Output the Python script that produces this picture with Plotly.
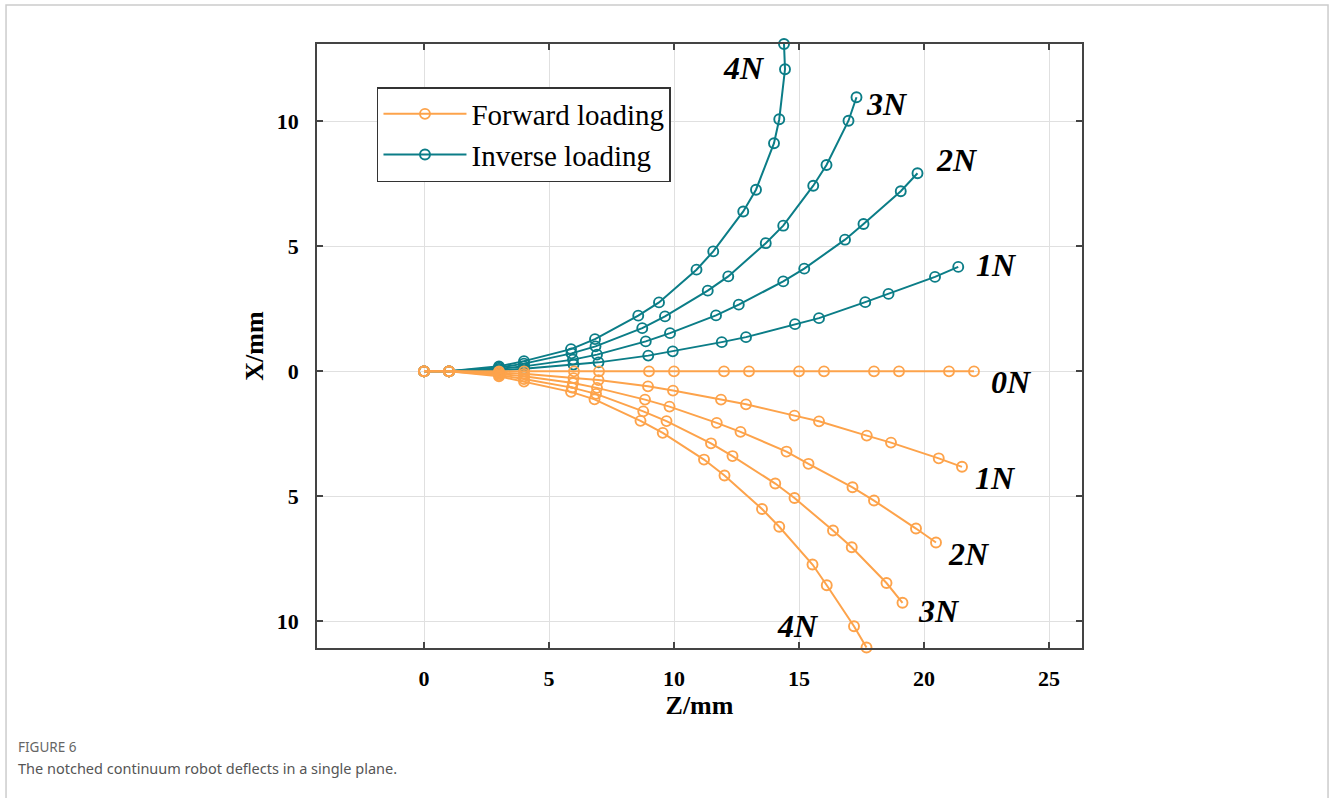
import plotly.graph_objects as go

# ---------------- data (Z/mm, X/mm) ----------------
z_0N = [0, 1, 3, 4, 6, 7, 9, 10, 12, 13, 15, 16, 18, 19, 21, 22]
x_0N = [0] * 16

z_f1 = [0, 1, 3, 4, 5.98, 6.98, 8.96, 9.96, 11.88, 12.88, 14.82, 15.80, 17.71, 18.68, 20.59, 21.52]
x_f1 = [0, 0, -0.05, -0.10, -0.27, -0.35, -0.60, -0.77, -1.13, -1.32, -1.77, -2.00, -2.57, -2.85, -3.48, -3.82]

z_f2 = [0, 1, 3, 4, 5.96, 6.92, 8.84, 9.82, 11.71, 12.66, 14.50, 15.38, 17.14, 18.00, 19.68, 20.48]
x_f2 = [0, 0, -0.10, -0.20, -0.47, -0.66, -1.13, -1.41, -2.06, -2.42, -3.21, -3.70, -4.64, -5.17, -6.29, -6.85]

z_f3 = [0, 1, 3, 4, 5.92, 6.88, 8.77, 9.70, 11.48, 12.34, 14.05, 14.82, 16.36, 17.11, 18.50, 19.14]
x_f3 = [0, 0, -0.15, -0.31, -0.65, -0.90, -1.60, -1.99, -2.88, -3.39, -4.49, -5.07, -6.37, -7.04, -8.47, -9.26]

z_f4 = [0, 1, 3, 4, 5.88, 6.82, 8.66, 9.55, 11.20, 12.02, 13.52, 14.21, 15.54, 16.11, 17.20, 17.70]
x_f4 = [0, 0, -0.20, -0.41, -0.82, -1.12, -1.98, -2.46, -3.53, -4.17, -5.51, -6.22, -7.73, -8.56, -10.20, -11.05]

z_i1 = [0, 1, 3, 4, 5.98, 6.98, 8.97, 9.95, 11.91, 12.88, 14.84, 15.80, 17.65, 18.58, 20.44, 21.37]
x_i1 = [0, 0, 0.05, 0.10, 0.27, 0.36, 0.63, 0.80, 1.17, 1.37, 1.89, 2.13, 2.77, 3.10, 3.78, 4.18]

z_i2 = [0, 1, 3, 4, 5.96, 6.92, 8.87, 9.84, 11.68, 12.59, 14.37, 15.21, 16.84, 17.58, 19.07, 19.74]
x_i2 = [0, 0, 0.10, 0.20, 0.47, 0.67, 1.20, 1.53, 2.24, 2.67, 3.60, 4.11, 5.27, 5.90, 7.21, 7.93]

z_i3 = [0, 1, 3, 4, 5.90, 6.86, 8.73, 9.64, 11.35, 12.17, 13.67, 14.37, 15.57, 16.10, 16.98, 17.30]
x_i3 = [0, 0, 0.15, 0.31, 0.72, 1.00, 1.73, 2.20, 3.23, 3.80, 5.13, 5.83, 7.43, 8.26, 10.03, 10.97]

z_i4 = [0, 1, 3, 4, 5.88, 6.84, 8.57, 9.40, 10.90, 11.57, 12.77, 13.28, 14.00, 14.21, 14.44, 14.40]
x_i4 = [0, 0, 0.20, 0.41, 0.89, 1.29, 2.23, 2.76, 4.07, 4.80, 6.40, 7.27, 9.13, 10.09, 12.09, 13.10]

forward = [(z_0N, x_0N), (z_f1, x_f1), (z_f2, x_f2), (z_f3, x_f3), (z_f4, x_f4)]
inverse = [(z_i1, x_i1), (z_i2, x_i2), (z_i3, x_i3), (z_i4, x_i4)]

# label texts and positions
inv_labels = ["1N", "2N", "3N", "4N"]
inv_label_z = [22.9, 21.3, 18.5, 12.8]
inv_label_x = [4.25, 8.47, 10.7, 12.14]
fwd_labels = ["0N", "1N", "2N", "3N", "4N"]
fwd_label_z = [23.5, 22.85, 21.78, 20.6, 14.95]
fwd_label_x = [-0.44, -4.25, -7.3, -9.6, -10.2]

x_ticks = [0, 5, 10, 15, 20, 25]
y_ticks = [-10, -5, 0, 5, 10]
y_ticktext = ["10", "5", "0", "5", "10"]

ORANGE = "#FDA34B"
TEAL = "#0B7D87"
SERIF = "Liberation Serif"

fig = go.Figure()

for i, (zz, xx) in enumerate(inverse):
    fig.add_trace(go.Scatter(
        x=zz, y=xx, mode="lines+markers",
        line=dict(color=TEAL, width=2),
        marker=dict(symbol="circle-open", size=10, color=TEAL, line=dict(width=1.9, color=TEAL)),
        name="Inverse loading", legendgroup="inv", showlegend=(i == 0), legendrank=2,
        cliponaxis=False,
    ))

for i, (zz, xx) in enumerate(forward):
    fig.add_trace(go.Scatter(
        x=zz, y=xx, mode="lines+markers",
        line=dict(color=ORANGE, width=2),
        marker=dict(symbol="circle-open", size=10, color=ORANGE, line=dict(width=1.9, color=ORANGE)),
        name="Forward loading", legendgroup="fwd", showlegend=(i == 0), legendrank=1,
        cliponaxis=False,
    ))

annotations = []
for t, zz, xx in zip(inv_labels, inv_label_z, inv_label_x):
    annotations.append(dict(x=zz, y=xx, xref="x", yref="y", text=f"<b><i>{t}</i></b>",
                            showarrow=False, font=dict(family=SERIF, size=32, color="black")))
for t, zz, xx in zip(fwd_labels, fwd_label_z, fwd_label_x):
    annotations.append(dict(x=zz, y=xx, xref="x", yref="y", text=f"<b><i>{t}</i></b>",
                            showarrow=False, font=dict(family=SERIF, size=32, color="black")))

annotations.append(dict(x=-0.3935, y=-0.164, xref="paper", yref="paper", xanchor="left", yanchor="middle",
                        text="FIGURE 6", showarrow=False,
                        font=dict(family="Noto Sans", size=13.5, color="#666666")))
annotations.append(dict(x=-0.3935, y=-0.199, xref="paper", yref="paper", xanchor="left", yanchor="middle",
                        text="The notched continuum robot deflects in a single plane.", showarrow=False,
                        font=dict(family="Noto Sans", size=14.5, color="#555555")))

axis_common = dict(
    showline=True, linecolor="#444444", linewidth=1.5, mirror="ticks",
    ticks="inside", ticklen=6, tickwidth=1.5, tickcolor="#444444",
    showgrid=True, gridcolor="#e0e0e0", gridwidth=1, zeroline=False,
    tickfont=dict(family=SERIF, size=22, color="black", weight="bold"),
)

fig.update_layout(
    width=1330, height=798,
    margin=dict(l=317, r=248, t=44, b=150),
    paper_bgcolor="white", plot_bgcolor="white",
    xaxis=dict(range=[-4.28, 26.32], tickvals=x_ticks, ticklabelstandoff=10,
               title=dict(text="<b>Z/mm</b>", font=dict(family=SERIF, size=26, color="black"), standoff=6),
               **axis_common),
    yaxis=dict(range=[-11.07, 13.1], tickvals=y_ticks, ticktext=y_ticktext, ticklabelstandoff=12,
               title=dict(text="<b>X/mm</b>", font=dict(family=SERIF, size=26, color="black"), standoff=6),
               **axis_common),
    legend=dict(x=0.0784, y=0.9288, xanchor="left", yanchor="top",
                font=dict(family=SERIF, size=29, color="black"),
                bgcolor="white", bordercolor="#333333", borderwidth=1.5,
                itemwidth=83, tracegroupgap=0),
    annotations=annotations,
    shapes=[dict(type="rect", xref="paper", yref="paper",
                 x0=-0.4065, x1=1.3216, y0=-0.26, y1=1.0646,
                 line=dict(color="#cccccc", width=1.5), fillcolor="rgba(0,0,0,0)", layer="below")],
    showlegend=True,
)

fig.write_html("out.html")
